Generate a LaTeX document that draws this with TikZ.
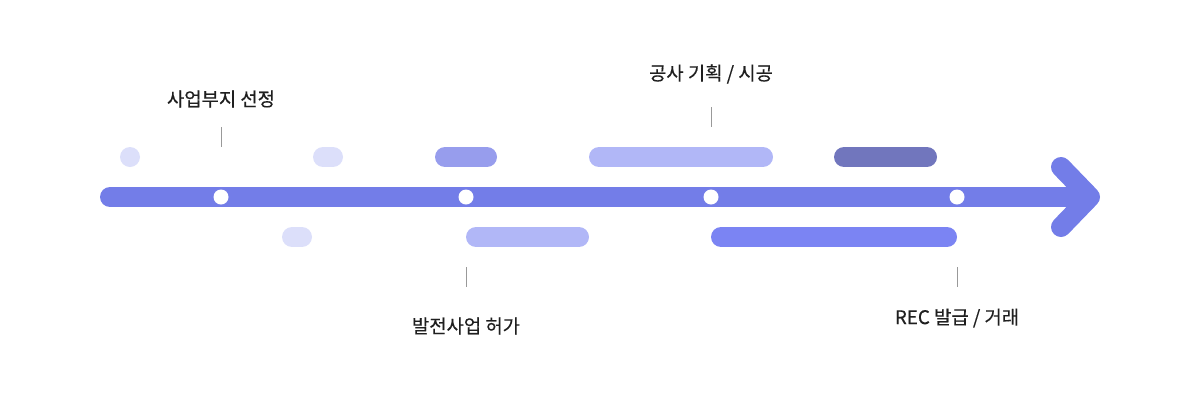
\documentclass[tikz,border=0pt]{standalone}
\usepackage{fontspec}
\newfontfamily\kofont[FakeBold=0.4]{Noto Sans CJK KR}
\usetikzlibrary{positioning}
\definecolor{mainline}{HTML}{737DE8}
\definecolor{palebar}{HTML}{DCDFFA}
\definecolor{midbar}{HTML}{979DED}
\definecolor{lightbar}{HTML}{B1B7F7}
\definecolor{darkbar}{HTML}{7176BD}
\definecolor{brightbar}{HTML}{7B84F3}

\begin{document}
\begin{tikzpicture}[x=1pt, y=-1pt,
    bar/.style={line width=20pt, line cap=round},
    dot/.style={circle, fill=white, inner sep=0pt, minimum size=15pt},
    tick/.style={draw=black!40, line width=0.7pt},
    lbl/.style={font=\kofont\fontsize{18.8}{22}\selectfont, text=black!88}]
    \useasboundingbox (0,0) rectangle (1200,400);

    % timeline with arrow
    \draw[bar, mainline] (110,197) -- (1088,197);
    \draw[bar, mainline, line join=round] (1061,167) -- (1090,197) -- (1061,227);

    % upper bars
    \fill[palebar] (130,157) circle (10);
    \draw[bar, palebar] (323,157) -- (333,157);
    \draw[bar, midbar] (445,157) -- (487,157);
    \draw[bar, lightbar] (599,157) -- (763,157);
    \draw[bar, darkbar] (844,157) -- (927,157);

    % lower bars
    \draw[bar, palebar] (292,237) -- (302,237);
    \draw[bar, lightbar] (476,237) -- (579,237);
    \draw[bar, brightbar] (721,237) -- (947,237);

    % milestones
    \node[dot] (d1) at (221,197) {};
    \node[dot] (d2) at (466,197) {};
    \node[dot] (d3) at (711,197) {};
    \node[dot] (d4) at (957,197) {};

    % labels
    \node[lbl] (site) at (221,99) {사업부지 선정};
    \node[lbl] (build) at (711,74) {공사 기획 / 시공};
    \node[lbl] (permit) at (466,326) {발전사업 허가};
    \node[lbl] (rec) at (957,318) {REC 발급 / 거래};

    \coordinate (s1) at (221,127); \coordinate (s2) at (221,147);
    \coordinate (b1) at (711,107); \coordinate (b2) at (711,127);
    \coordinate (p1) at (466,267); \coordinate (p2) at (466,287);
    \coordinate (r1) at (957,267); \coordinate (r2) at (957,287);
    \draw[tick] (s1) -- (s2);
    \draw[tick] (b1) -- (b2);
    \draw[tick] (p1) -- (p2);
    \draw[tick] (r1) -- (r2);

\end{tikzpicture}
\end{document}
